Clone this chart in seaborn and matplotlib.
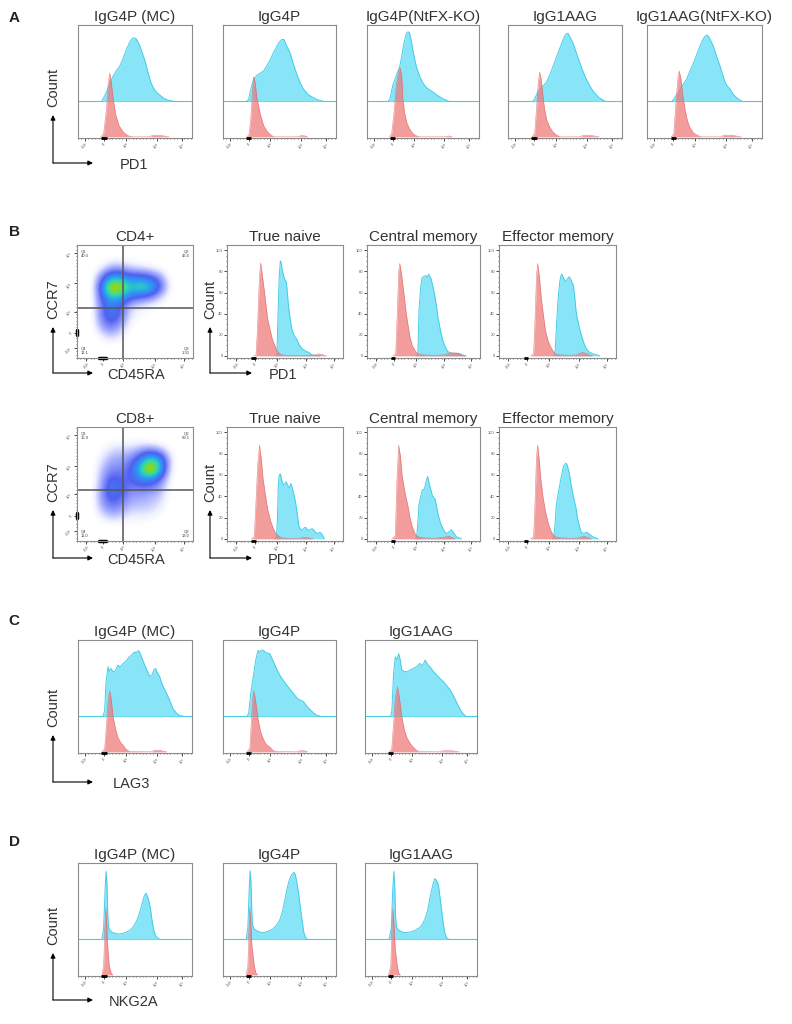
import numpy as np
import matplotlib
matplotlib.use('Agg')
import matplotlib.pyplot as plt
from matplotlib.colors import LinearSegmentedColormap
from matplotlib.ticker import MultipleLocator
import seaborn as sns

# ---------------- data ----------------
# x is position along the logicle axis (0-100 of the panel width), y is % of panel height
log_tick_labels = ['-10³', '0', '10³', '10⁴', '10⁵']
count_tick_labels = ['0', '20', '40', '60', '80', '100']

pd1_titles = ['IgG4P (MC)', 'IgG4P', 'IgG4P(NtFX-KO)', 'IgG1AAG', 'IgG1AAG(NtFX-KO)']
lag3_titles = ['IgG4P (MC)', 'IgG4P', 'IgG1AAG']
nkg2a_titles = ['IgG4P (MC)', 'IgG4P', 'IgG1AAG']
subset_titles = ['True naive', 'Central memory', 'Effector memory']

# A: PD1 (red = isotype, cyan = stained, cyan heights above its offset baseline)
pd1_mc_iso_x = [20, 22.5, 25, 26.5, 27.8, 29, 31, 33, 36, 40, 44, 48, 62, 66, 72, 77, 80]
pd1_mc_iso_y = [0, 3, 25, 48, 57, 50, 33, 20, 10, 4, 1, 0, 0, 1.5, 1.5, 0.5, 0]
pd1_mc_x = [21, 22.5, 25, 28, 30.7, 33.5, 36.5, 39.5, 42.4, 45, 46.8, 48.5, 50.6, 52, 54, 56, 58.5, 61, 64, 66, 68.7, 71, 74.6, 78, 80, 83]
pd1_mc_h = [0, 3, 8, 16, 22, 27, 31, 38, 46, 52, 55, 56.5, 56, 54, 50, 44, 37, 27, 16.5, 12, 8, 6, 3, 1.2, 0.5, 0]

pd1_g4p_iso_x = [21, 23, 24.5, 26, 27.2, 28.5, 30, 33, 36, 39, 42, 45, 66, 69, 72, 75]
pd1_g4p_iso_y = [0, 2, 15, 40, 54, 48, 35, 20, 10, 5, 2, 0, 0, 1.2, 1, 0]
pd1_g4p_x = [21, 22.6, 24, 27, 30, 33, 36, 39, 41.8, 44.5, 47.6, 50, 52, 54, 56, 59.4, 62, 65, 68, 71, 75, 80, 83, 86, 88]
pd1_g4p_h = [0, 1, 8, 19.5, 23, 25, 27, 32, 37, 43, 49, 53, 55, 55, 50, 43, 34, 25, 17, 11, 6, 3, 1.5, 0.5, 0]

pd1_g4p_ko_iso_x = [20, 22, 24, 26, 28, 29.5, 31, 32, 33.5, 35.4, 38, 41, 44, 47, 70, 73, 76]
pd1_g4p_ko_iso_y = [0, 3, 20, 45, 58, 62, 54, 34, 22, 13, 7, 3, 1, 0, 0, 0.8, 0]
pd1_g4p_ko_x = [19, 20.5, 23, 26.5, 29, 31, 33, 35, 36.6, 38, 39.5, 41.4, 44, 47, 50, 53, 56, 59, 63, 68, 72.6]
pd1_g4p_ko_h = [0, 2, 14, 24, 30, 40, 52, 60, 62, 61, 54, 43, 31, 22, 16, 12, 10, 8, 5, 2, 0]

pd1_g1_iso_x = [21, 23.4, 25, 26.5, 27.8, 29, 30.5, 32, 34, 36.5, 39, 42, 46, 63, 66, 72, 77, 80]
pd1_g1_iso_y = [0, 3, 25, 48, 58, 52, 38, 25, 15, 9, 5, 2, 0, 0, 1.5, 1.5, 0.5, 0]
pd1_g1_x = [22, 23.4, 26, 29, 31, 33.6, 36.5, 39.5, 42, 45, 47.5, 49.7, 51, 52.6, 54.5, 57, 60, 63, 66, 68.7, 71.5, 74.6, 78, 80, 83, 85]
pd1_g1_h = [0, 2, 8, 12, 14, 16.5, 23, 31, 38, 46, 53, 58, 60, 60.6, 57, 52, 43, 34, 26, 19.5, 14, 9, 5, 3, 1, 0]

pd1_g1_ko_iso_x = [21, 23.3, 25, 26.8, 28, 29.5, 31, 33, 35, 37, 40, 43, 47, 64, 67, 74, 79, 82]
pd1_g1_ko_iso_y = [0, 3, 28, 52, 59, 52, 38, 25, 15, 9, 4, 2, 0, 0, 1.5, 1.5, 0.5, 0]
pd1_g1_ko_x = [22, 23.3, 26, 29, 31.5, 34.4, 37, 40, 43, 46, 48.5, 50.4, 52.5, 54.5, 57.7, 60.5, 63.6, 66, 68, 70, 72, 75, 78, 80.5, 82.5]
pd1_g1_ko_h = [0, 2, 6, 11, 15, 19.5, 26, 33, 41, 49, 55, 58, 59, 56, 49, 40, 31, 23, 16.5, 13, 11, 6, 3, 1, 0]

# C: LAG3
lag3_mc_iso_x = [21, 23.4, 25, 26.5, 27.8, 29, 30.7, 33, 35, 37, 39.5, 42, 45, 64, 67, 72, 76, 78]
lag3_mc_iso_y = [0, 3, 25, 47, 54.4, 48, 32, 20, 13, 9, 6, 2.5, 0.5, 0, 1.5, 1.5, 0.3, 0]
lag3_mc_x = [22, 23.4, 24.5, 26.3, 27.5, 29, 30.5, 32, 33.5, 35, 37, 39.5, 42, 45, 47.5, 49.7, 51, 52.5, 54, 56, 58.5, 60.5, 63, 65, 66.5, 68, 69.5, 71.6, 74, 77.5, 80, 83, 86, 89, 92]
lag3_mc_h = [0, 5, 30, 44, 40, 42.6, 40, 39.6, 42, 45.6, 44, 47, 49, 52.9, 55, 57.4, 56, 58.5, 57.4, 52, 45.6, 41, 35.3, 37, 41, 42.6, 39, 35.3, 28, 20.6, 15, 7.3, 3, 0.6, 0]

lag3_g4p_iso_x = [21, 23.7, 25, 26.2, 27.2, 28.5, 31, 33, 35.5, 38, 41.4, 44, 47, 65, 68, 72, 75]
lag3_g4p_iso_y = [0, 3, 25, 46, 54.4, 48, 29.4, 19, 11.8, 7, 4.4, 1.5, 0.3, 0, 1, 1, 0]
lag3_g4p_x = [21.5, 22.8, 24.5, 27.2, 29, 31, 32.5, 34, 35.5, 37, 39, 41.4, 44, 47.3, 50, 53, 57, 62, 66, 69, 71, 74, 77, 80, 83, 86]
lag3_g4p_h = [0, 3, 20, 38.2, 50, 58.8, 57, 59, 58.8, 57.5, 56.5, 55.8, 50, 42.6, 37, 32.3, 27, 20.5, 15.5, 14, 13.2, 9, 5.8, 3, 0.6, 0]

lag3_g1_iso_x = [22, 23.9, 25.5, 27, 29, 30.5, 32.8, 35, 37.3, 40, 43, 46, 48, 66, 70, 78, 82, 84]
lag3_g1_iso_y = [0, 3, 25, 48, 58, 50, 32, 20, 13, 8, 4.4, 1.5, 0.3, 0, 1, 1, 0.3, 0]
lag3_g1_x = [23, 24, 25.5, 27, 28.5, 30, 31.5, 32.8, 35, 37.3, 40, 43, 46, 49, 51.5, 53.7, 56, 58, 61, 64, 67, 70, 73, 76, 79, 82, 85, 88, 90]
lag3_g1_h = [0, 5, 38, 52.9, 50, 55.8, 50, 41, 40, 39.6, 41, 42.6, 44, 47, 45, 50, 46, 44, 40, 36.7, 33.5, 30.8, 27, 23.5, 18, 11.8, 6, 1.5, 0]

# D: NKG2A
nkg2a_mc_iso_x = [21, 22.5, 23.5, 24.4, 25.2, 26, 27.4, 29, 30.5]
nkg2a_mc_iso_y = [0, 8, 40, 59.6, 45, 25.7, 8, 2, 0]
nkg2a_mc_x = [21, 22.5, 23.8, 24.6, 25.4, 26.1, 26.8, 28, 30, 33, 36, 39, 42, 45, 48, 50, 52, 54.5, 56.8, 58.3, 59.7, 61, 62.6, 64, 65, 66.5, 68, 70, 71.5]
nkg2a_mc_h = [0, 10, 45, 60.5, 50, 22, 10.4, 8, 6, 5, 4.5, 5, 6, 7.5, 10.4, 13.5, 17.7, 25, 34, 39, 41, 38, 32.5, 24, 16, 8, 3, 1, 0]

nkg2a_g4p_iso_x = [20.5, 22, 23, 23.8, 24.7, 25.6, 27.7, 29, 30.6]
nkg2a_g4p_iso_y = [0, 8, 40, 59.6, 45, 25.7, 8, 2, 0]
nkg2a_g4p_x = [20.5, 22, 23.2, 24, 24.8, 25.5, 26, 27.5, 30.6, 33.5, 36.6, 40, 44, 47, 50, 52.5, 54.5, 56.5, 58.3, 60, 61.9, 63, 64, 65.5, 67, 68.5, 70, 71.5, 73, 74.5]
nkg2a_g4p_h = [0, 10, 45, 61, 50, 25, 13, 9, 7, 6, 6, 7, 9, 12, 16.5, 24, 34, 44, 51.7, 56, 59, 59.5, 57.5, 50, 40, 28, 16.5, 6, 1.5, 0]

nkg2a_g1_iso_x = [21, 23, 24, 25, 26, 27, 28.8, 30, 31.5]
nkg2a_g1_iso_y = [0, 8, 40, 59.6, 42, 22.7, 8, 2, 0]
nkg2a_g1_x = [21.5, 23.5, 24.8, 25.8, 26.6, 27.3, 28, 30, 34, 38, 41.4, 45, 49, 51, 53.5, 56, 58, 59.5, 61, 62.3, 63.4, 64.5, 65.5, 67, 68.5, 70, 71.5, 73, 74.5]
nkg2a_g1_h = [0, 10, 45, 60.5, 45, 20, 10.4, 8, 6, 6, 6.5, 8, 10.4, 13, 17.7, 26, 37, 44, 50, 54, 53, 51, 48.6, 37, 25, 13, 4.5, 1, 0]

# B: PD1 on T cell subsets (y = % of max)
cd4_tn_iso_x = [23, 25, 26, 27, 28, 29, 30, 32, 35, 39, 43, 46, 50, 60, 70, 76, 79, 83, 86]
cd4_tn_iso_y = [0, 1, 20, 47, 75, 88, 80, 63, 35, 16, 5, 1.5, 0.5, 0.3, 0.5, 1, 2, 1, 0]
cd4_tn_x = [42, 43, 44, 45, 46, 46.8, 47.6, 49, 50, 51, 52, 53, 54.5, 56, 58, 60, 62, 64.6, 67, 69, 71, 73, 76, 80]
cd4_tn_y = [0, 1, 40, 75, 90, 88, 81, 75, 72, 70.5, 60, 47, 35, 25, 19, 16, 11, 7, 5, 4, 3, 1, 0.5, 0]

cd4_cm_iso_x = [23, 25.4, 27, 28, 29, 30.5, 33, 34.5, 36, 38, 40, 42.5, 45, 50, 60, 68, 72, 76, 80, 84, 88]
cd4_cm_iso_y = [0, 2, 45, 80, 87.5, 78, 56, 42, 31, 18, 10, 5, 2, 1, 0.5, 1, 2.5, 3, 2.5, 1, 0]
cd4_cm_x = [44, 45, 46, 47.5, 48.7, 50, 52, 53.5, 54.6, 55.5, 56.7, 58.5, 60, 61.5, 62.7, 65, 67, 69, 71.6, 74, 76, 78.5, 80.6, 83, 85, 87]
cd4_cm_y = [0, 2, 43, 65, 74, 75, 76, 74.5, 77.5, 75, 73, 65, 57, 47, 37, 24, 15, 9, 4, 3, 2, 2.5, 2.5, 1.5, 0.5, 0]

cd4_em_iso_x = [27, 29.6, 31, 32, 33, 34.5, 36, 38, 39.7, 42, 44, 46, 48, 52, 60, 66, 70, 73, 76, 80]
cd4_em_iso_y = [0, 2, 40, 75, 87.5, 75, 56, 38, 24, 14, 9, 5, 2, 1, 0.5, 1, 3, 3, 1.5, 0]
cd4_em_x = [47, 48, 49, 50, 51, 52, 53, 53.7, 55, 57, 58.5, 60, 61.5, 63.6, 64.8, 65.8, 67, 68.5, 70.5, 72.6, 74.5, 76.7, 80, 83.6, 86]
cd4_em_y = [0, 5, 25, 46, 60, 71, 76, 77.5, 74, 70, 73, 75, 72, 66.5, 55, 43, 35, 27.5, 19, 12, 7, 4, 2, 1, 0]

cd8_tn_iso_x = [21, 23.5, 25, 26.5, 28, 29.5, 31, 33, 35, 37.5, 40, 42, 44, 47, 52, 62, 66, 70, 74]
cd8_tn_iso_y = [0, 2, 35, 70, 88, 75, 57, 42, 28, 17, 9.5, 5, 3, 1, 0.5, 0.3, 1.5, 1, 0]
cd8_tn_x = [41, 42.6, 43.5, 44.2, 45, 46, 47, 48.5, 50, 51, 52, 53, 54, 55, 56.5, 58, 59, 60.5, 62, 63.5, 65, 66.3, 67.6, 69, 70.6, 72, 73.5, 75, 76.5, 78, 79.5, 81, 82.5, 84]
cd8_tn_y = [0, 1, 20, 50, 60, 61, 56, 50.5, 52, 53.6, 51, 49, 48, 52, 47, 40, 35, 24, 12, 9, 8, 10, 11, 9, 8, 9, 9.5, 8, 6, 5, 6, 5.7, 3, 0]

cd8_cm_iso_x = [22, 25, 26.5, 28, 29.5, 31, 33.5, 36, 38, 40, 42.5, 45, 50, 60, 68, 72, 75, 78]
cd8_cm_iso_y = [0, 3, 55, 88, 78, 60, 44, 32, 20, 11.6, 5, 2, 1, 0.5, 1.5, 2.5, 1.5, 0]
cd8_cm_x = [43, 44, 45, 46, 47.5, 49, 50, 51, 52.5, 53.7, 54.5, 55.5, 57, 58, 59, 60, 61.5, 63, 65, 67, 68.5, 70, 72, 74.6, 76.5, 79, 81, 83.6]
cd8_cm_y = [0, 2, 15, 32, 40, 46, 46, 47.6, 55, 58.6, 55, 50, 44, 40, 39, 38, 31, 22.6, 15, 10, 7, 5, 6, 8.5, 6, 2, 1, 0]

cd8_em_iso_x = [27, 29.6, 31, 32, 33, 34.3, 35.6, 37.5, 39.7, 42, 44, 46, 48, 52, 62, 68, 72, 76, 79]
cd8_em_iso_y = [0, 2, 40, 76, 88, 75, 57, 40, 25.7, 15, 8.5, 4.5, 2, 1, 0.5, 1, 2.5, 1.5, 0]
cd8_em_x = [46, 47, 48, 49, 50.5, 52, 53.5, 55, 57, 58, 59, 60.3, 61.6, 63.5, 65.8, 67, 68.5, 70, 71, 73, 75, 76.5, 78, 80, 83.6, 85]
cd8_em_y = [0, 3, 15, 32, 42, 51, 60, 68, 71, 70, 66.5, 60, 51, 40, 29, 20, 13, 7, 5.3, 5.5, 6.3, 5, 3.8, 2, 0.5, 0]

# B: CCR7 vs CD45RA density (rows from top to bottom, columns left to right)
cd4_density = [
    [0, 0, 0, 0, 0, 0, 0, 0, 0, 0, 0, 0],
    [0, 0, 0, 0.3, 0.3, 0.2, 0.1, 0, 0, 0, 0, 0],
    [0, 0, 0.5, 1.5, 1.5, 1, 0.8, 0.6, 0.3, 0, 0, 0],
    [0, 0, 2, 4.5, 4.5, 3.5, 3.5, 3, 2, 0.3, 0, 0],
    [0, 0, 3, 8, 7.5, 5, 6, 5.5, 3, 0.5, 0, 0],
    [0, 0, 2.5, 5, 4.5, 3, 2.5, 2, 1, 0.2, 0, 0],
    [0, 0, 2, 3.5, 2.5, 1, 0.6, 0.4, 0.2, 0, 0, 0],
    [0, 0, 2, 3.5, 2.5, 0.6, 0.3, 0.1, 0, 0, 0, 0],
    [0, 0, 1.5, 2.5, 1.5, 0.3, 0.1, 0, 0, 0, 0, 0],
    [0, 0, 0.6, 1.2, 0.7, 0.1, 0, 0, 0, 0, 0, 0],
    [0, 0, 0.1, 0.2, 0.1, 0, 0, 0, 0, 0, 0, 0],
    [0, 0, 0, 0, 0, 0, 0, 0, 0, 0, 0, 0],
]
cd8_density = [
    [0, 0, 0, 0, 0, 0, 0, 0, 0, 0, 0, 0],
    [0, 0, 0, 0.2, 0.3, 0.3, 0.3, 0.2, 0.1, 0, 0, 0],
    [0, 0, 0.3, 0.8, 1, 1, 1.5, 2, 1.5, 0.5, 0, 0],
    [0, 0, 0.6, 1.5, 1.5, 2, 3.5, 6, 5, 1, 0, 0],
    [0, 0, 1, 2, 2, 2.5, 5, 8.5, 5.5, 0.8, 0, 0],
    [0, 0, 1.2, 3, 2.5, 2.5, 3.5, 3.5, 2.5, 0.5, 0, 0],
    [0, 0, 1.5, 3.5, 3, 2, 2, 2, 1.5, 0.3, 0, 0],
    [0, 0, 1.5, 3, 2.5, 1.5, 1.5, 1.2, 1, 0.2, 0, 0],
    [0, 0, 1.2, 2, 1.8, 1, 1, 1, 0.6, 0.1, 0, 0],
    [0, 0, 0.5, 1, 0.8, 0.5, 0.5, 0.4, 0.2, 0, 0, 0],
    [0, 0, 0, 0.1, 0.1, 0.1, 0.1, 0, 0, 0, 0, 0],
    [0, 0, 0, 0, 0, 0, 0, 0, 0, 0, 0, 0],
]
cd4_quadrants = ['40.0', '46.6', '1.30', '12.1']  # Q1, Q2, Q3, Q4
cd8_quadrants = ['16.9', '59.1', '13.0', '11.0']

# ---------------- style ----------------
sns.set_style('white')
plt.rcParams['font.family'] = ['Liberation Sans', 'DejaVu Sans']

W, H = 792, 1024
CYAN, CYAN_EDGE = '#88e4f7', '#45cce8'
RED, RED_EDGE = '#ef7373', '#e06262'
SPINE = '#8c8c8c'
TXT = '#333333'
OFFSET = 32
LOG_TICKS = [6, 23, 42, 69, 91]
LOG_TICKS_B = [8, 24, 43, 68, 92]
density_cmap = LinearSegmentedColormap.from_list(
    'flow', [(0.0, '#ffffff'), (0.04, '#eef0ff'), (0.12, '#a8b0ff'), (0.25, '#5060f0'),
             (0.4, '#2a9cf5'), (0.52, '#2fd8b0'), (0.64, '#8ad820'), (0.8, '#f0d000'),
             (1.0, '#ff3000')])
density_cmap.set_under('white')

fig = plt.figure(figsize=(7.92, 10.24), dpi=100)


def box(l, t, r, b):
    return [l / W, 1 - b / H, (r - l) / W, (b - t) / H]


def style_axis(ax, ticks, y_counts=False):
    for s in ax.spines.values():
        s.set_color(SPINE)
        s.set_linewidth(0.8)
    ax.set_xlim(0, 100)
    ax.set_xticks(ticks)
    ax.set_xticklabels(log_tick_labels, fontsize=3, rotation=45, color='#555555')
    ax.xaxis.set_minor_locator(MultipleLocator(3))
    ax.tick_params(axis='x', which='major', bottom=True, length=2, width=0.5, pad=1, color='black')
    ax.tick_params(axis='x', which='minor', bottom=True, length=1, width=0.4, color='black')
    if y_counts:
        ax.set_ylim(-2, 105)
        ax.set_yticks([0, 20, 40, 60, 80, 100])
        ax.set_yticklabels(count_tick_labels, fontsize=3, color='#555555')
        ax.yaxis.set_minor_locator(MultipleLocator(5))
        ax.tick_params(axis='y', which='major', left=True, length=2, width=0.5, pad=1, color='black')
        ax.tick_params(axis='y', which='minor', left=True, length=1, width=0.4, color='black')
    else:
        ax.set_ylim(-1, 100)
        ax.set_yticks([])
    ax.set_xlabel('')
    ax.set_ylabel('')


def offset_hist(rect, title, iso_x, iso_y, st_x, st_h):
    ax = fig.add_axes(box(*rect))
    top = np.asarray(st_h) + OFFSET
    ax.axhline(OFFSET, color=CYAN_EDGE, lw=0.8, zorder=2)
    ax.fill_between(st_x, OFFSET, top, color=CYAN, lw=0, zorder=2)
    sns.lineplot(x=st_x, y=top, ax=ax, color=CYAN_EDGE, lw=0.7, sort=False, zorder=2)
    ax.fill_between(iso_x, 0, iso_y, color=RED, alpha=0.7, lw=0, zorder=3)
    sns.lineplot(x=iso_x, y=iso_y, ax=ax, color=RED_EDGE, lw=0.4, alpha=0.8, sort=False, zorder=3)
    ax.plot([20.5, 25], [-1, -1], color='black', lw=2, solid_capstyle='butt', clip_on=False, zorder=4)
    style_axis(ax, LOG_TICKS)
    ax.set_title(title, fontsize=11, color=TXT, pad=3)
    return ax


def subset_hist(rect, title, iso_x, iso_y, st_x, st_y):
    ax = fig.add_axes(box(*rect))
    ax.fill_between(st_x, 0, st_y, color=CYAN, lw=0, zorder=2)
    sns.lineplot(x=st_x, y=st_y, ax=ax, color=CYAN_EDGE, lw=0.7, sort=False, zorder=2)
    ax.fill_between(iso_x, 0, iso_y, color=RED, alpha=0.7, lw=0, zorder=3)
    sns.lineplot(x=iso_x, y=iso_y, ax=ax, color=RED_EDGE, lw=0.4, alpha=0.8, sort=False, zorder=3)
    ax.plot([21, 25], [-2, -2], color='black', lw=2, solid_capstyle='butt', clip_on=False, zorder=4)
    style_axis(ax, LOG_TICKS_B, y_counts=True)
    ax.set_title(title, fontsize=11, color=TXT, pad=3)
    return ax


def dot_plot(rect, title, grid, quads, hline):
    ax = fig.add_axes(box(*rect))
    ax.imshow(np.asarray(grid)[::-1], origin='lower', extent=(0, 1, 0, 1), cmap=density_cmap,
              vmin=0.15, vmax=10, interpolation='bicubic', aspect='auto')
    ax.axvline(0.40, color='#555555', lw=1.1)
    ax.axhline(hline, color='#555555', lw=1.1)
    ax.set_xlim(0, 1)
    ax.set_ylim(0, 1)
    for s in ax.spines.values():
        s.set_color(SPINE)
        s.set_linewidth(0.8)
    ax.set_xticks([0.08, 0.22, 0.40, 0.67, 0.92])
    ax.set_xticklabels(log_tick_labels, fontsize=3, rotation=45, color='#555555')
    ax.set_yticks([0.09, 0.22, 0.41, 0.66, 0.93])
    ax.set_yticklabels(log_tick_labels, fontsize=3, rotation=45, color='#555555')
    ax.xaxis.set_minor_locator(MultipleLocator(0.03))
    ax.yaxis.set_minor_locator(MultipleLocator(0.03))
    ax.tick_params(which='major', bottom=True, left=True, length=2, width=0.5, pad=1, color='black')
    ax.tick_params(which='minor', bottom=True, left=True, length=1, width=0.4, color='black')
    kw = dict(fontsize=3, color='#444444', transform=ax.transAxes, va='top')
    ax.text(0.03, 0.96, 'Q1\n' + quads[0], ha='left', **kw)
    ax.text(0.97, 0.96, 'Q2\n' + quads[1], ha='right', **kw)
    ax.text(0.97, 0.10, 'Q3\n' + quads[2], ha='right', **kw)
    ax.text(0.03, 0.10, 'Q4\n' + quads[3], ha='left', **kw)
    ax.plot([0, 0], [0.2, 0.25], color='black', lw=2.5, clip_on=False)
    ax.plot([0.19, 0.25], [0, 0], color='black', lw=2.5, clip_on=False)
    ax.set_title(title, fontsize=11, color=TXT, pad=3)
    return ax


# ---------------- row A ----------------
a_rects = [(78, 25, 192, 138), (223, 25, 336, 138), (367, 25, 479, 138),
           (508, 25, 622, 138), (647, 25, 762, 138)]
a_data = [(pd1_mc_iso_x, pd1_mc_iso_y, pd1_mc_x, pd1_mc_h),
          (pd1_g4p_iso_x, pd1_g4p_iso_y, pd1_g4p_x, pd1_g4p_h),
          (pd1_g4p_ko_iso_x, pd1_g4p_ko_iso_y, pd1_g4p_ko_x, pd1_g4p_ko_h),
          (pd1_g1_iso_x, pd1_g1_iso_y, pd1_g1_x, pd1_g1_h),
          (pd1_g1_ko_iso_x, pd1_g1_ko_iso_y, pd1_g1_ko_x, pd1_g1_ko_h)]
for rect, title, d in zip(a_rects, pd1_titles, a_data):
    offset_hist(rect, title, *d)

# ---------------- row B ----------------
dot_plot((77, 245, 193, 358), 'CD4+', cd4_density, cd4_quadrants, 0.44)
dot_plot((77, 427, 193, 541), 'CD8+', cd8_density, cd8_quadrants, 0.45)
b_cols = [(227, 343), (367, 480), (499, 616)]
cd4_data = [(cd4_tn_iso_x, cd4_tn_iso_y, cd4_tn_x, cd4_tn_y),
            (cd4_cm_iso_x, cd4_cm_iso_y, cd4_cm_x, cd4_cm_y),
            (cd4_em_iso_x, cd4_em_iso_y, cd4_em_x, cd4_em_y)]
cd8_data = [(cd8_tn_iso_x, cd8_tn_iso_y, cd8_tn_x, cd8_tn_y),
            (cd8_cm_iso_x, cd8_cm_iso_y, cd8_cm_x, cd8_cm_y),
            (cd8_em_iso_x, cd8_em_iso_y, cd8_em_x, cd8_em_y)]
for (l, r), title, d in zip(b_cols, subset_titles, cd4_data):
    subset_hist((l, 245, r, 358), title, *d)
for (l, r), title, d in zip(b_cols, subset_titles, cd8_data):
    subset_hist((l, 427, r, 541), title, *d)

# ---------------- rows C and D ----------------
cd_cols = [(78, 192), (223, 336), (365, 477)]
c_data = [(lag3_mc_iso_x, lag3_mc_iso_y, lag3_mc_x, lag3_mc_h),
          (lag3_g4p_iso_x, lag3_g4p_iso_y, lag3_g4p_x, lag3_g4p_h),
          (lag3_g1_iso_x, lag3_g1_iso_y, lag3_g1_x, lag3_g1_h)]
d_data = [(nkg2a_mc_iso_x, nkg2a_mc_iso_y, nkg2a_mc_x, nkg2a_mc_h),
          (nkg2a_g4p_iso_x, nkg2a_g4p_iso_y, nkg2a_g4p_x, nkg2a_g4p_h),
          (nkg2a_g1_iso_x, nkg2a_g1_iso_y, nkg2a_g1_x, nkg2a_g1_h)]
for (l, r), title, d in zip(cd_cols, lag3_titles, c_data):
    offset_hist((l, 640, r, 753), title, *d)
for (l, r), title, d in zip(cd_cols, nkg2a_titles, d_data):
    offset_hist((l, 863, r, 976), title, *d)

# ---------------- axis arrows, labels, panel letters ----------------
ov = fig.add_axes([0, 0, 1, 1], zorder=10)
ov.set_xlim(0, W)
ov.set_ylim(H, 0)
ov.axis('off')
ov.patch.set_alpha(0)

arrow_kw = dict(arrowstyle='-|>', color='black', lw=0.8, mutation_scale=7, shrinkA=0, shrinkB=0)


def corner(x, y, top, right, ylab, xlab, xlab_x):
    ov.annotate('', xy=(x, top), xytext=(x, y), arrowprops=arrow_kw)
    ov.annotate('', xy=(right, y), xytext=(x, y), arrowprops=arrow_kw)
    ov.text(x, top - 28, ylab, rotation=90, ha='center', va='center', fontsize=10.5, color=TXT)
    ov.text(xlab_x, y + 2, xlab, ha='center', va='center', fontsize=10.5, color=TXT)


corner(53, 163, 115, 93, 'Count', 'PD1', 134)
corner(53, 373, 327, 93, 'CCR7', 'CD45RA', 136)
corner(210, 373, 327, 252, 'Count', 'PD1', 283)
corner(53, 558, 510, 93, 'CCR7', 'CD45RA', 136)
corner(210, 558, 510, 252, 'Count', 'PD1', 282)
corner(53, 782, 735, 93, 'Count', 'LAG3', 131)
corner(53, 1000, 953, 93, 'Count', 'NKG2A', 134)

for letter, y in zip(['A', 'B', 'C', 'D'], [18, 232, 621, 842]):
    ov.text(14, y, letter, fontsize=11, fontweight='bold', ha='center', va='center', color='#222222')

fig.savefig('out.png', dpi=100)
